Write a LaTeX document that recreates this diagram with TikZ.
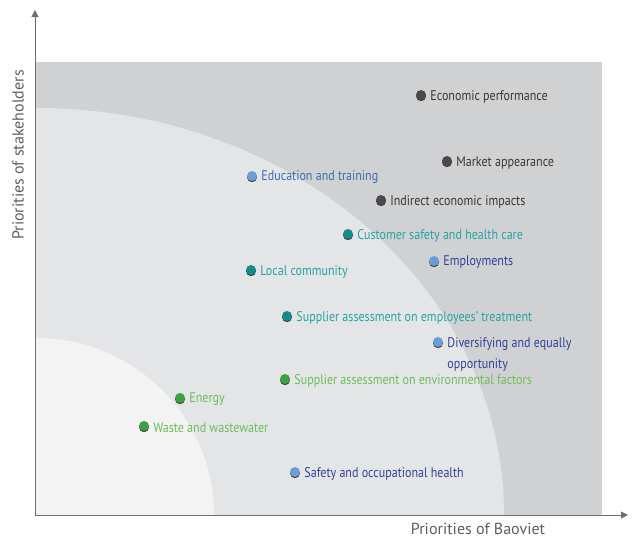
\documentclass[tikz,border=0pt]{standalone}
\usepackage{fontspec}
\setmainfont{PT Sans}
\newfontfamily\condfont[FakeStretch=0.86]{PT Sans}
\usetikzlibrary{arrows.meta}
\definecolor{bgdark}{HTML}{D0D1D3}
\definecolor{bgmid}{HTML}{E4E5E7}
\definecolor{bglight}{HTML}{F3F3F4}
\definecolor{axisc}{HTML}{6E6E70}
\definecolor{greydot}{HTML}{4A4A4C}
\definecolor{greytxt}{HTML}{3E3631}
\definecolor{bluedot}{HTML}{6C9CD9}
\definecolor{bluetxt}{HTML}{33419A}
\definecolor{lbluetxt}{HTML}{3C6DB6}
\definecolor{tealdot}{HTML}{178A8C}
\definecolor{tealtxt}{HTML}{26A3A6}
\definecolor{greendot}{HTML}{3DA043}
\definecolor{greentxt}{HTML}{6ABF5A}
\tikzset{
  x=1pt, y=-1pt,
  dotnode/.style={circle, inner sep=0pt, minimum size=10pt, fill=#1},
  shadowdot/.style={circle, inner sep=0pt, minimum size=10pt, fill=black!75},
  lbl/.style={anchor=west, inner sep=1pt, font=\condfont\fontsize{14}{15}\selectfont, text=#1},
  axlbl/.style={font=\fontsize{16}{18}\selectfont, text=axisc!85!black},
}
\begin{document}
\begin{tikzpicture}
\useasboundingbox (0,0) rectangle (632,538);
% background regions
\fill[bgdark] (36,62) rectangle (602,515);
\fill[bgmid] (36,108) arc[start angle=90, end angle=0, x radius=468, y radius=-407] -- (36,515) -- cycle;
\fill[bglight] (36,338) arc[start angle=90, end angle=0, x radius=178, y radius=-177] -- (36,515) -- cycle;
% axes
\coordinate (O) at (35,515);
\coordinate (Ytop) at (35,10);
\coordinate (Xend) at (628,515);
\draw[axisc, line width=1pt, -{Triangle[length=7pt,width=7pt]}] (O) -- (Ytop);
\draw[axisc, line width=1pt, -{Triangle[length=7pt,width=7pt]}] (O) -- (Xend);
\node[axlbl, rotate=90] (ylab) at (18,155) {Priorities of stakeholders};
\node[axlbl] (xlab) at (478,529) {Priorities of Baoviet};
% dots: shadow then dot
\foreach \n/\px/\py/\c in {
  d1/421/95/greydot, d2/447/161/greydot, d3/252/176/bluedot, d4/381/200/greydot,
  d5/348/234/tealdot, d6/434/261/bluedot, d7/251/270/tealdot, d8/287/316/tealdot,
  d9/438/342/bluedot, d10/285/379/greendot, d11/180/398/greendot, d12/144/426/greendot,
  d13/295/472/bluedot}{
  \node[shadowdot] (\n s) at (\px,\py+1.2) {};
  \node[dotnode=\c] (\n) at (\px,\py) {};
}
\tikzset{lshift/.style={xshift=3pt, yshift=-1.5pt}}
\node[lbl=greytxt] (l1) at ([lshift]d1.east) {Economic performance};
\node[lbl=greytxt] (l2) at ([lshift]d2.east) {Market appearance};
\node[lbl=lbluetxt] (l3) at ([lshift]d3.east) {Education and training};
\node[lbl=greytxt] (l4) at ([lshift]d4.east) {Indirect economic impacts};
\node[lbl=tealtxt] (l5) at ([lshift]d5.east) {Customer safety and health care};
\node[lbl=bluetxt] (l6) at ([lshift]d6.east) {Employments};
\node[lbl=tealtxt] (l7) at ([lshift]d7.east) {Local community};
\node[lbl=tealtxt] (l8) at ([lshift]d8.east) {Supplier assessment on employees’ treatment};
\node[lbl=bluetxt, anchor=north west, align=left] (l9) at ([xshift=3pt,yshift=6pt]d9.east) {Diversifying and equally\\[6pt]opportunity};
\node[lbl=greentxt] (l10) at ([lshift]d10.east) {Supplier assessment on environmental factors};
\node[lbl=greentxt] (l11) at ([lshift]d11.east) {Energy};
\node[lbl=greentxt] (l12) at ([lshift]d12.east) {Waste and wastewater};
\node[lbl=bluetxt] (l13) at ([lshift]d13.east) {Safety and occupational health};
\end{tikzpicture}
\end{document}
